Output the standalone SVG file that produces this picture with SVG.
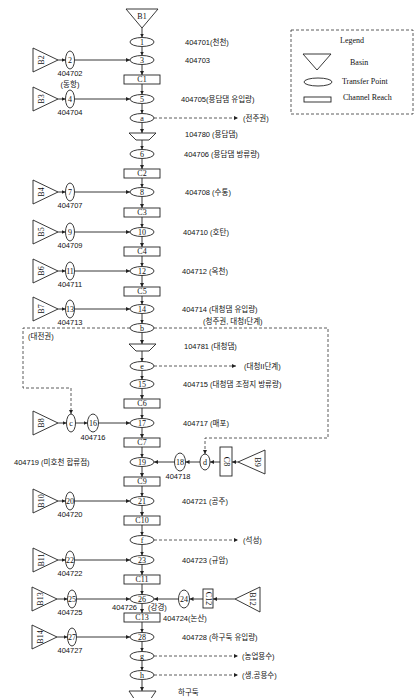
<svg xmlns="http://www.w3.org/2000/svg" width="416" height="698" viewBox="0 0 416 698">
<defs>
<marker id="ah" viewBox="0 0 6 6" refX="6" refY="3" markerWidth="4" markerHeight="4" orient="auto" markerUnits="userSpaceOnUse"><path d="M0,0 L6,3 L0,6 z" fill="#222"/></marker>
<style>
.s{fill:#fff;stroke:#222;stroke-width:0.9}
.ln{fill:none;stroke:#222;stroke-width:0.9}
.dl{fill:none;stroke:#333;stroke-width:0.8;stroke-dasharray:3,2}
.n{font-family:"Liberation Serif","Noto Serif",serif;font-size:8px;fill:#111;text-anchor:middle;dominant-baseline:central}
.t{font-family:"Liberation Sans","Noto Sans CJK KR",sans-serif;font-size:7.5px;fill:#111;dominant-baseline:central}
.tc{font-family:"Liberation Sans","Noto Sans CJK KR",sans-serif;font-size:7.5px;fill:#111;text-anchor:middle;dominant-baseline:central}
.lg{font-family:"Liberation Serif",serif;font-size:8px;fill:#111;dominant-baseline:central}
</style>
</defs>
<rect width="416" height="698" fill="#fff"/>

<!-- legend -->
<g id="legend">
<rect x="291" y="30" width="122" height="84" fill="none" stroke="#333" stroke-width="0.8" stroke-dasharray="3,2"/>
<text class="lg" x="340" y="40">Legend</text>
<polygon class="s" points="303,54 331,54 317,70"/>
<text class="lg" x="350" y="62">Basin</text>
<ellipse class="s" cx="318" cy="82" rx="14" ry="4"/>
<text class="lg" x="342" y="81">Transfer Point</text>
<rect class="s" x="304" y="97" width="27" height="5"/>
<text class="lg" x="343" y="97">Channel Reach</text>
</g>

<!-- connectors -->
<g id="connectors">
<g class="ln" marker-end="url(#ah)">
<path d="M142,28 V37.5"/>
<path d="M142,46.5 V55.5"/>
<path d="M142,64.5 V75"/>
<path d="M142,84 V94.5"/>
<path d="M142,103.5 V113.5"/>
<path d="M142,122.5 V133"/>
<path d="M142,140 V149.5"/>
<path d="M142,158.5 V169"/>
<path d="M142,178 V187.5"/>
<path d="M142,196.5 V208"/>
<path d="M142,217 V227.5"/>
<path d="M142,236.5 V247"/>
<path d="M142,256 V266.5"/>
<path d="M142,275.5 V287"/>
<path d="M142,296 V304.5"/>
<path d="M142,313.5 V323.5"/>
<path d="M142,332.5 V344"/>
<path d="M142,351 V361.5"/>
<path d="M142,370.5 V379.5"/>
<path d="M142,388.5 V399"/>
<path d="M142,408 V418.5"/>
<path d="M142,427.5 V438"/>
<path d="M142,447 V457.5"/>
<path d="M142,466.5 V477"/>
<path d="M142,486 V496.5"/>
<path d="M142,505.5 V516"/>
<path d="M142,525 V535.5"/>
<path d="M142,544.5 V555.5"/>
<path d="M142,564.5 V575"/>
<path d="M142,584 V594.5"/>
<path d="M142,603.5 V613"/>
<path d="M142,622 V632.5"/>
<path d="M142,641.5 V651.5"/>
<path d="M142,660.5 V670.5"/>
<path d="M142,679.5 V691"/>
<!-- left side inflows -->
<path d="M58,60 H65.5"/><path d="M74.5,60 H130"/>
<path d="M58,99 H65.5"/><path d="M74.5,99 H130"/>
<path d="M58,192 H65.5"/><path d="M74.5,192 H130"/>
<path d="M58,232 H65.5"/><path d="M74.5,232 H130"/>
<path d="M58,271 H65.5"/><path d="M74.5,271 H130"/>
<path d="M58,309 H65.5"/><path d="M74.5,309 H130"/>
<path d="M58,423 H66.5"/><path d="M75.5,423 H87.5"/><path d="M98.5,423 H130"/>
<path d="M58,501 H65.5"/><path d="M74.5,501 H130"/>
<path d="M58,560 H65.5"/><path d="M74.5,560 H130"/>
<path d="M57,599 H67.5"/><path d="M76.5,599 H130"/>
<path d="M57,637 H67.5"/><path d="M76.5,637 H130"/>
<!-- right side inflows -->
<path d="M238,462 H232"/><path d="M220,462 H210"/><path d="M200,462 H185.5"/><path d="M174.5,462 H154"/>
<path d="M235,599 H213"/><path d="M203,599 H189.5"/><path d="M178.5,599 H154"/>
</g>
<g class="dl" marker-end="url(#ah)">
<path d="M154,118 H238"/>
<path d="M154,366 H236"/>
<path d="M154,540 H238"/>
<path d="M154,656 H238"/>
<path d="M154,675 H238"/>
<path d="M130,328 H23 V388 H71 V414"/>
<path d="M154,328 H328 V438 H205 V454"/>
</g>
</g>

<!-- main column nodes -->
<g id="B1"><polygon class="s" points="126,9 158,9 142,28"/><text class="n" x="142" y="16">B1</text></g>
<g id="N1"><ellipse class="s" cx="142" cy="42" rx="12" ry="4.5"/><text class="n" x="142" y="42">1</text></g>
<g id="N3"><ellipse class="s" cx="142" cy="60" rx="12" ry="4.5"/><text class="n" x="142" y="60">3</text></g>
<g id="C1"><rect class="s" x="124" y="75" width="36" height="9"/><text class="n" x="142" y="79.5">C1</text></g>
<g id="N5"><ellipse class="s" cx="142" cy="99" rx="12" ry="4.5"/><text class="n" x="142" y="99">5</text></g>
<g id="Na"><ellipse class="s" cx="142" cy="118" rx="12" ry="4.5"/><text class="n" x="142" y="118" font-size="6">a</text></g>
<g id="D1"><polygon class="s" points="129,133 156,133 149,140 136,140"/></g>
<g id="N6"><ellipse class="s" cx="142" cy="154" rx="12" ry="4.5"/><text class="n" x="142" y="154">6</text></g>
<g id="C2"><rect class="s" x="124" y="169" width="36" height="9"/><text class="n" x="142" y="173.5">C2</text></g>
<g id="N8"><ellipse class="s" cx="142" cy="192" rx="12" ry="4.5"/><text class="n" x="142" y="192">8</text></g>
<g id="C3"><rect class="s" x="124" y="208" width="36" height="9"/><text class="n" x="142" y="212.5">C3</text></g>
<g id="N10"><ellipse class="s" cx="142" cy="232" rx="12" ry="4.5"/><text class="n" x="142" y="232">10</text></g>
<g id="C4"><rect class="s" x="124" y="247" width="36" height="9"/><text class="n" x="142" y="251.5">C4</text></g>
<g id="N12"><ellipse class="s" cx="142" cy="271" rx="12" ry="4.5"/><text class="n" x="142" y="271">12</text></g>
<g id="C5"><rect class="s" x="124" y="287" width="36" height="9"/><text class="n" x="142" y="291.5">C5</text></g>
<g id="N14"><ellipse class="s" cx="142" cy="309" rx="12" ry="4.5"/><text class="n" x="142" y="309">14</text></g>
<g id="Nb"><ellipse class="s" cx="142" cy="328" rx="12" ry="4.5"/><text class="n" x="142" y="328">b</text></g>
<g id="D2"><polygon class="s" points="129,344 156,344 149,351 136,351"/></g>
<g id="Ne"><ellipse class="s" cx="142" cy="366" rx="12" ry="4.5"/><text class="n" x="142" y="366" font-size="6">e</text></g>
<g id="N15"><ellipse class="s" cx="142" cy="384" rx="12" ry="4.5"/><text class="n" x="142" y="384">15</text></g>
<g id="C6"><rect class="s" x="124" y="399" width="36" height="9"/><text class="n" x="142" y="403.5">C6</text></g>
<g id="N17"><ellipse class="s" cx="142" cy="423" rx="12" ry="4.5"/><text class="n" x="142" y="423">17</text></g>
<g id="C7"><rect class="s" x="124" y="438" width="36" height="9"/><text class="n" x="142" y="442.5">C7</text></g>
<g id="N19"><ellipse class="s" cx="142" cy="462" rx="12" ry="4.5"/><text class="n" x="142" y="462">19</text></g>
<g id="C9"><rect class="s" x="124" y="477" width="36" height="9"/><text class="n" x="142" y="481.5">C9</text></g>
<g id="N21"><ellipse class="s" cx="142" cy="501" rx="12" ry="4.5"/><text class="n" x="142" y="501">21</text></g>
<g id="C10"><rect class="s" x="124" y="516" width="36" height="9"/><text class="n" x="142" y="520.5">C10</text></g>
<g id="Nf"><ellipse class="s" cx="142" cy="540" rx="12" ry="4.5"/><text class="n" x="142" y="540" font-size="6">f</text></g>
<g id="N23"><ellipse class="s" cx="142" cy="560" rx="12" ry="4.5"/><text class="n" x="142" y="560">23</text></g>
<g id="C11"><rect class="s" x="124" y="575" width="36" height="9"/><text class="n" x="142" y="579.5">C11</text></g>
<g id="N26"><ellipse class="s" cx="142" cy="599" rx="12" ry="4.5"/><text class="n" x="142" y="599">26</text></g>
<g id="C13"><rect class="s" x="124" y="613" width="36" height="9"/><text class="n" x="142" y="617.5">C13</text></g>
<g id="N28"><ellipse class="s" cx="142" cy="637" rx="12" ry="4.5"/><text class="n" x="142" y="637">28</text></g>
<g id="Ng"><ellipse class="s" cx="142" cy="656" rx="12" ry="4.5"/><text class="n" x="142" y="656" font-size="6">g</text></g>
<g id="Nh"><ellipse class="s" cx="142" cy="675" rx="12" ry="4.5"/><text class="n" x="142" y="675" font-size="6">h</text></g>
<g id="D3"><polygon class="s" points="129,691 156,691 150,700 135,700"/></g>

<!-- left basins -->
<g id="B2"><polygon class="s" points="33,48 33,72 58,60"/><text class="n" transform="translate(41,60) rotate(-90)">B2</text></g>
<g id="N2"><ellipse class="s" cx="70" cy="60" rx="4.5" ry="9"/><text class="n" x="70" y="60">2</text></g>
<g id="B3"><polygon class="s" points="33,87 33,111 58,99"/><text class="n" transform="translate(41,99) rotate(-90)">B3</text></g>
<g id="N4"><ellipse class="s" cx="70" cy="99" rx="4.5" ry="9"/><text class="n" x="70" y="99">4</text></g>
<g id="B4"><polygon class="s" points="33,180 33,204 58,192"/><text class="n" transform="translate(41,192) rotate(-90)">B4</text></g>
<g id="N7"><ellipse class="s" cx="70" cy="192" rx="4.5" ry="9"/><text class="n" x="70" y="192">7</text></g>
<g id="B5"><polygon class="s" points="33,220 33,244 58,232"/><text class="n" transform="translate(41,232) rotate(-90)">B5</text></g>
<g id="N9"><ellipse class="s" cx="70" cy="232" rx="4.5" ry="9"/><text class="n" x="70" y="232">9</text></g>
<g id="B6"><polygon class="s" points="33,259 33,283 58,271"/><text class="n" transform="translate(41,271) rotate(-90)">B6</text></g>
<g id="N11"><ellipse class="s" cx="70" cy="271" rx="4.5" ry="9"/><text class="n" x="70" y="271">11</text></g>
<g id="B7"><polygon class="s" points="33,297 33,321 58,309"/><text class="n" transform="translate(41,309) rotate(-90)">B7</text></g>
<g id="N13"><ellipse class="s" cx="70" cy="309" rx="4.5" ry="9"/><text class="n" x="70" y="309">13</text></g>
<g id="B8"><polygon class="s" points="33,411 33,435 58,423"/><text class="n" transform="translate(41,423) rotate(-90)">B8</text></g>
<g id="Nc"><ellipse class="s" cx="71" cy="423" rx="4.5" ry="9"/><text class="n" x="71" y="423" font-size="6">c</text></g>
<g id="N16"><ellipse class="s" cx="93" cy="423" rx="5.5" ry="9"/><text class="n" x="93" y="423">16</text></g>
<g id="B10"><polygon class="s" points="33,489 33,513 58,501"/><text class="n" transform="translate(41,501) rotate(-90)">B10</text></g>
<g id="N20"><ellipse class="s" cx="70" cy="501" rx="4.5" ry="9"/><text class="n" x="70" y="501">20</text></g>
<g id="B11"><polygon class="s" points="33,548 33,572 58,560"/><text class="n" transform="translate(41,560) rotate(-90)">B11</text></g>
<g id="N22"><ellipse class="s" cx="70" cy="560" rx="4.5" ry="9"/><text class="n" x="70" y="560">22</text></g>
<g id="B13"><polygon class="s" points="32,587 32,611 57,599"/><text class="n" transform="translate(40,599) rotate(-90)">B13</text></g>
<g id="N25"><ellipse class="s" cx="72" cy="599" rx="4.5" ry="9"/><text class="n" x="72" y="599">25</text></g>
<g id="B14"><polygon class="s" points="32,625 32,649 57,637"/><text class="n" transform="translate(40,637) rotate(-90)">B14</text></g>
<g id="N27"><ellipse class="s" cx="72" cy="637" rx="4.5" ry="9"/><text class="n" x="72" y="637">27</text></g>

<!-- right basins -->
<g id="N18"><ellipse class="s" cx="180" cy="462" rx="5.5" ry="9"/><text class="n" x="180" y="462">18</text></g>
<g id="Nd"><ellipse class="s" cx="205" cy="462" rx="5" ry="8"/><text class="n" x="205" y="462" font-size="6.5">d</text></g>
<g id="C8"><rect class="s" x="220" y="447" width="12" height="29"/><text class="n" transform="translate(226,461.5) rotate(90)">C8</text></g>
<g id="B9"><polygon class="s" points="238,462 265,450 265,474"/><text class="n" transform="translate(257,462) rotate(90)">B9</text></g>
<g id="N24"><ellipse class="s" cx="184" cy="599" rx="5.5" ry="9"/><text class="n" x="184" y="599">24</text></g>
<g id="C12"><rect class="s" x="203" y="589" width="10" height="19"/><text class="n" transform="translate(208,598.5) rotate(90)">C12</text></g>
<g id="B12"><polygon class="s" points="235,599 260,587 260,612"/><text class="n" transform="translate(252,599) rotate(90)">B12</text></g>

<!-- labels -->
<g id="labels">
<text class="tc" x="70" y="73">404702</text>
<text class="tc" x="70" y="84">(동항)</text>
<text class="tc" x="70" y="112">404704</text>
<text class="tc" x="70" y="205">404707</text>
<text class="tc" x="70" y="245">404709</text>
<text class="tc" x="70" y="284">404711</text>
<text class="tc" x="70" y="322">404713</text>
<text class="tc" x="93" y="437">404716</text>
<text class="tc" x="70" y="514">404720</text>
<text class="tc" x="70" y="573">404722</text>
<text class="tc" x="70" y="612">404725</text>
<text class="tc" x="70" y="650">404727</text>
<text class="tc" x="178" y="476">404718</text>
<text class="t" x="112" y="607">404726</text>
<text class="t" x="148" y="607">(강경)</text>
<text class="t" x="163" y="618">404724(논산)</text>
<text class="t" x="14" y="462">404719 (미호천 합류점)</text>
<text class="t" x="28" y="336">(대전권)</text>

<text class="t" x="185" y="42">404701(천천)</text>
<text class="t" x="185" y="60">404703</text>
<text class="t" x="181" y="99">404705(용담댐 유입량)</text>
<text class="t" x="243" y="118">(전주권)</text>
<text class="t" x="185" y="134">104780 (용담댐)</text>
<text class="t" x="184" y="154">404706 (용담댐 방류량)</text>
<text class="t" x="185" y="192">404708 (수통)</text>
<text class="t" x="183" y="232">404710 (호탄)</text>
<text class="t" x="182" y="271">404712 (옥천)</text>
<text class="t" x="182" y="309">404714 (대청댐 유입량)</text>
<text class="t" x="203" y="321">(청주권, 대청I단계)</text>
<text class="t" x="184" y="346">104781 (대청댐)</text>
<text class="t" x="244" y="366">(대청II단계)</text>
<text class="t" x="183" y="384">404715 (대청댐 조정지 방류량)</text>
<text class="t" x="183" y="423">404717 (매포)</text>
<text class="t" x="182" y="501">404721 (공주)</text>
<text class="t" x="243" y="540">(석성)</text>
<text class="t" x="182" y="560">404723 (규암)</text>
<text class="t" x="182" y="637">404728 (하구둑 유입량)</text>
<text class="t" x="242" y="656">(농업용수)</text>
<text class="t" x="242" y="675">(생,공용수)</text>
<text class="t" x="178" y="692">하구둑</text>
</g>
</svg>
